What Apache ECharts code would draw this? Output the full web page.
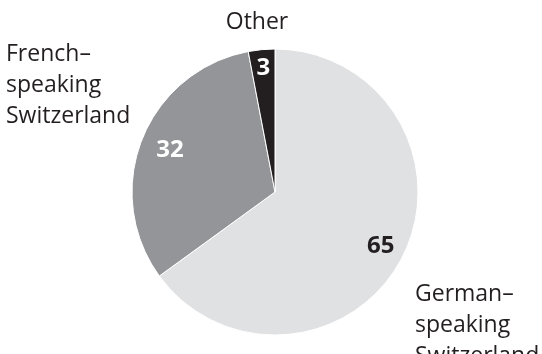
<!DOCTYPE html>
<html><head><meta charset="utf-8">
<script src="https://cdn.jsdelivr.net/npm/echarts@6/dist/echarts.min.js"></script>
<style>html,body{margin:0;padding:0;background:#fff}#c{width:542px;height:354px}</style>
</head><body><div id="c"></div>
<script>
const categories = ["German–\nspeaking\nSwitzerland", "French–\nspeaking\nSwitzerland", "Other"];
const values = [65, 32, 3];
const colors = ["#e0e1e3", "#939598", "#231f20"];
const valueColors = ["#231f20", "#ffffff", "#ffffff"];
const valueRadiusFactor = [0.83, 0.79, 0.87];
const nameAnchors = [
  {x: 415, y: 279, align: "left"},
  {x: 6, y: 39, align: "left"},
  {x: 257, y: 7, align: "center"}
];

const CX = 275, CY = 192, R = 143;
const total = values.reduce((a, b) => a + b, 0);
const mids = [];
let acc = 0;
values.forEach(v => { mids.push((acc + v / 2) / total * 2 * Math.PI); acc += v; });

const FONT = "'Open Sans', 'Noto Sans', sans-serif";
const chart = echarts.init(document.getElementById('c'), null, {renderer: 'canvas'});
chart.setOption({
  animation: false,
  series: [
    {
      type: 'pie',
      center: [CX, CY],
      radius: [0, R],
      startAngle: 90,
      clockwise: true,
      silent: true,
      itemStyle: {borderColor: '#ffffff', borderWidth: 1},
      data: values.map((v, i) => ({
        value: v, name: categories[i],
        itemStyle: {color: colors[i]},
        label: {color: valueColors[i]}
      })),
      label: {
        show: true, position: 'inside', formatter: '{c}',
        fontFamily: FONT, fontWeight: 'bold', fontSize: 24
      },
      labelLine: {show: false},
      labelLayout: function (p) {
        const a = mids[p.dataIndex];
        const d = R * valueRadiusFactor[p.dataIndex];
        return {x: CX + Math.sin(a) * d, y: CY - Math.cos(a) * d, align: 'center', verticalAlign: 'middle'};
      }
    },
    {
      type: 'pie',
      center: [CX, CY],
      radius: [0, R],
      startAngle: 90,
      clockwise: true,
      silent: true,
      z: 3,
      itemStyle: {color: 'rgba(0,0,0,0)', borderWidth: 0},
      data: values.map((v, i) => ({value: v, name: categories[i]})),
      label: {
        show: true, position: 'outside', formatter: '{b}',
        fontFamily: FONT, fontSize: 23, color: '#231f20', lineHeight: 31,
        overflow: 'none', width: 200
      },
      labelLine: {show: false},
      labelLayout: function (p) {
        const n = nameAnchors[p.dataIndex];
        return {x: n.x, y: n.y, align: n.align, verticalAlign: 'top'};
      }
    }
  ]
});
</script></body></html>
